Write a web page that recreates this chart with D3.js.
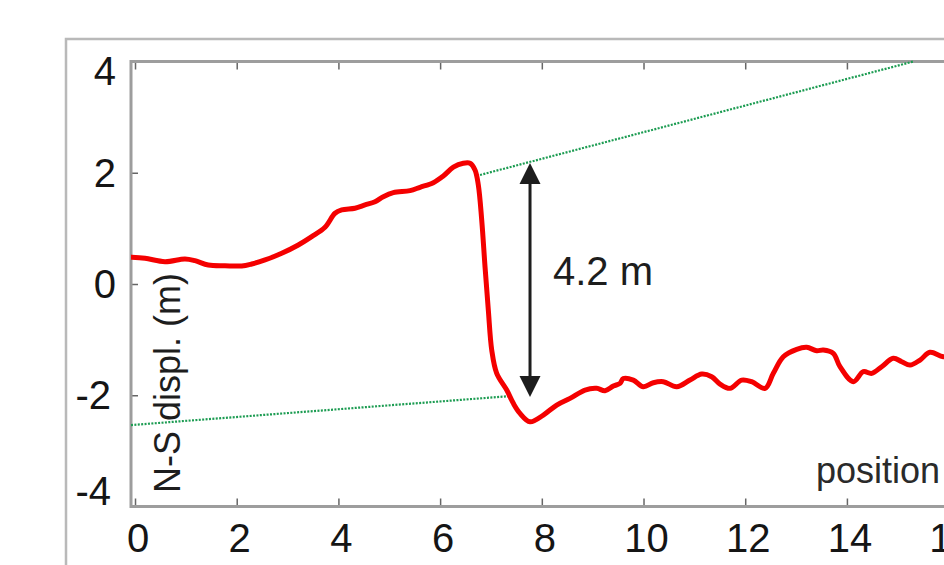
<!DOCTYPE html>
<html>
<head>
<meta charset="utf-8">
<script src="https://cdn.jsdelivr.net/npm/d3@7"></script>
<style>
  body { margin: 0; background: #fff; }
  svg { display: block; font-family: "Liberation Sans", Arial, sans-serif; }
</style>
</head>
<body>
<div id="chart"></div>
<script>
// ---- data ----
const posX = [-0.065, 0.197, 0.590, 0.983, 1.180, 1.441, 1.770, 2.098, 2.295, 2.557,
  2.885, 3.211, 3.475, 3.736, 3.933, 4.065, 4.326, 4.523, 4.720, 4.883,
  5.080, 5.408, 5.605, 5.866, 6.063, 6.260, 6.456, 6.588, 6.686, 6.751,
  6.818, 6.883, 6.948, 7.015, 7.113, 7.310, 7.440, 7.571, 7.768, 8.030,
  8.293, 8.555, 8.850, 9.080, 9.243, 9.406, 9.538, 9.603, 9.799, 9.996,
  10.193, 10.389, 10.653, 10.914, 11.145, 11.341, 11.504, 11.701, 11.931, 12.128,
  12.390, 12.553, 12.749, 13.013, 13.209, 13.406, 13.536, 13.732, 13.864, 14.126,
  14.322, 14.488, 14.684, 14.912, 15.078, 15.241, 15.438, 15.634, 15.896, 16.2];
const displNS = [0.480, 0.462, 0.401, 0.450, 0.419, 0.342, 0.329, 0.324, 0.360, 0.432,
  0.552, 0.701, 0.851, 1.020, 1.272, 1.331, 1.362, 1.421, 1.480, 1.570,
  1.642, 1.678, 1.739, 1.821, 1.942, 2.099, 2.171, 2.171, 2.050, 1.781,
  1.151, 0.311, -0.468, -1.187, -1.606, -1.906, -2.146, -2.326, -2.477, -2.356,
  -2.176, -2.056, -1.906, -1.876, -1.919, -1.835, -1.786, -1.700, -1.727, -1.847,
  -1.775, -1.757, -1.847, -1.727, -1.619, -1.667, -1.799, -1.876, -1.727, -1.757,
  -1.876, -1.606, -1.308, -1.174, -1.138, -1.200, -1.187, -1.246, -1.487, -1.757,
  -1.577, -1.606, -1.487, -1.336, -1.397, -1.457, -1.367, -1.228, -1.308, -1.3];

// dotted trend lines [x, y]
const trendUpper = [[6.785, 1.96], [15.31, 4.0]];
const trendLower = [[-0.079, -2.536], [7.394, -2.014]];

// offset arrow
const arrowX = 7.768;
const arrowTop = 2.176;
const arrowBottom = -2.032;
const offsetLabel = "4.2 m";

const xTicks = [0, 2, 4, 6, 8, 10, 12, 14, 16];
const yTicks = [-4, -2, 0, 2, 4];
const yLabel = "N-S displ. (m)";
const xLabel = "position";

// ---- layout ----
const W = 944, H = 565;
const plotL = 131, plotT = 61.5, plotB = 506.5;

const svg = d3.select("#chart").append("svg")
  .attr("width", W).attr("height", H);

const x = d3.scaleLinear().domain([-0.079, 16.7]).range([plotL, plotL + 16.779 * 50.85]);
const y = d3.scaleLinear().domain([-4, 4]).range([plotB, plotT]);

// outer frame
svg.append("path")
  .attr("d", `M66,${H} L66,39 L${W},39`)
  .attr("fill", "none").attr("stroke", "#b9b9b9").attr("stroke-width", 2.5);

svg.append("clipPath").attr("id", "plot")
  .append("rect").attr("x", plotL).attr("y", plotT).attr("width", W - plotL).attr("height", plotB - plotT);

// axes
const plain = d => String(d);
const gx = svg.append("g").attr("transform", `translate(0,${plotB})`)
  .call(d3.axisBottom(x).tickValues(xTicks).tickFormat(plain).tickSizeInner(-8).tickSizeOuter(0).tickPadding(17));
const gt = svg.append("g").attr("transform", `translate(0,${plotT})`)
  .call(d3.axisTop(x).tickValues(xTicks).tickSizeInner(-8).tickSizeOuter(0).tickFormat(""));
const gy = svg.append("g").attr("transform", `translate(${plotL},0)`)
  .call(d3.axisLeft(y).tickValues(yTicks).tickFormat(plain).tickSizeInner(-7).tickSizeOuter(0).tickPadding(15));

[gx, gt, gy].forEach(g => {
  g.select(".domain").remove();
  g.selectAll(".tick line").attr("stroke", "#666").attr("stroke-width", 1.5);
  g.selectAll(".tick text").attr("fill", "#151515").style("font-size", "40px");
});
gx.selectAll(".tick text").attr("dx", 2.5);
gy.selectAll(".tick text")
  .attr("dx", d => d < 0 ? -5 : 0)
  .attr("dy", d => d === 4 ? "0.58em" : d === -4 ? "-0.05em" : "0.34em");

// axis lines
svg.append("path")
  .attr("d", `M${W},${plotT} L${plotL},${plotT} L${plotL},${plotB} L${W},${plotB}`)
  .attr("fill", "none").attr("stroke", "#9d9d9d").attr("stroke-width", 3);

// trend lines
const seg = d3.line().x(d => x(d[0])).y(d => y(d[1]));
[trendUpper, trendLower].forEach(t => {
  svg.append("path")
    .attr("d", seg(t))
    .attr("fill", "none")
    .attr("stroke", "#1c9c52")
    .attr("stroke-width", 2.2)
    .attr("stroke-dasharray", "2,1.4");
});

// displacement curve
const pts = posX.map((v, i) => [v, displNS[i]]);
svg.append("path")
  .attr("clip-path", "url(#plot)")
  .attr("d", d3.line().x(d => x(d[0])).y(d => y(d[1])).curve(d3.curveCatmullRom.alpha(0.5))(pts))
  .attr("fill", "none")
  .attr("stroke", "#f40000")
  .attr("stroke-width", 5)
  .attr("stroke-linejoin", "round")
  .attr("stroke-linecap", "round");

// double arrow
const ax = x(arrowX), yT = y(arrowTop), yB = y(arrowBottom);
svg.append("line")
  .attr("x1", ax).attr("x2", ax).attr("y1", yT + 15).attr("y2", yB - 15)
  .attr("stroke", "#1d1d1d").attr("stroke-width", 3);
svg.append("path")
  .attr("d", `M${ax},${yT} L${ax - 10.5},${yT + 21} L${ax + 10.5},${yT + 21} Z`)
  .attr("fill", "#1d1d1d");
svg.append("path")
  .attr("d", `M${ax},${yB} L${ax - 10.5},${yB - 21} L${ax + 10.5},${yB - 21} Z`)
  .attr("fill", "#1d1d1d");

svg.append("text")
  .attr("x", 553).attr("y", 285)
  .attr("fill", "#1d1d1d")
  .style("font-size", "40px")
  .text(offsetLabel);

// axis titles
svg.append("text")
  .attr("transform", "translate(180,493) rotate(-90)")
  .attr("fill", "#1d1d1d")
  .style("font-size", "36px")
  .text(yLabel);

svg.append("text")
  .attr("x", 816).attr("y", 483)
  .attr("fill", "#2a2a2a")
  .style("font-size", "36px")
  .text(xLabel);
</script>
</body>
</html>
